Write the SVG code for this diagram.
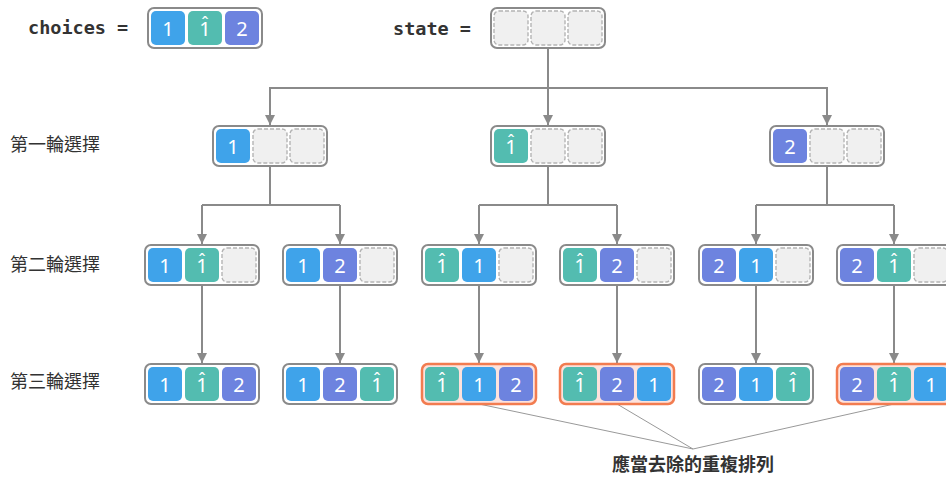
<svg xmlns="http://www.w3.org/2000/svg" xmlns:xlink="http://www.w3.org/1999/xlink" width="946" height="477" viewBox="0 0 946 477">
<style>
.box{fill:#fff;stroke:#8a8a8a;stroke-width:2}
.hl{fill:#fde2dc;stroke:#f27c50;stroke-width:2.5}
.e{fill:#f0f0f0;stroke:#b4b4b4;stroke-width:1.4;stroke-dasharray:4 2}
.b{fill:#3fa3ea}
.t{fill:#53bcb0}
.p{fill:#6d83df}
.d{font-family:"Noto Sans","Open Sans",sans-serif;font-size:20px;fill:#fff;text-anchor:middle}
.h{font-family:"Noto Sans","Open Sans",sans-serif;font-size:18px;fill:#fff;text-anchor:middle}
.lbl{font-family:"Noto Sans CJK TC","Noto Sans CJK SC",sans-serif;font-size:18px;fill:#333}
.mono{font-family:"DejaVu Sans Mono","Liberation Mono",monospace;font-size:18.5px;font-weight:bold;fill:#333}
.conn{fill:none;stroke:#8a8a8a;stroke-width:2}
.thin{fill:none;stroke:#999;stroke-width:1}
</style>
<defs>
<marker id="arr" viewBox="0 0 10 10" refX="10" refY="5" markerWidth="5" markerHeight="5" orient="auto" markerUnits="strokeWidth">
<path d="M0,0 L10,5 L0,10 z" fill="#8a8a8a"/>
</marker>
<g id="E1"><rect class="e" x="40" y="3" width="34" height="34" rx="5"/></g>
<g id="E2"><rect class="e" x="77" y="3" width="34" height="34" rx="5"/></g>
<g id="H0"><rect class="t" x="3" y="3" width="34" height="34" rx="5"/><text class="d" x="20" y="28">1</text><text class="h" x="20" y="22">ˆ</text></g>
<g id="H1"><rect class="t" x="40" y="3" width="34" height="34" rx="5"/><text class="d" x="57" y="28">1</text><text class="h" x="57" y="22">ˆ</text></g>
<g id="H2"><rect class="t" x="77" y="3" width="34" height="34" rx="5"/><text class="d" x="94" y="28">1</text><text class="h" x="94" y="22">ˆ</text></g>
</defs>

<text class="mono" x="28" y="34">choices =</text>
<text class="mono" x="393" y="35">state =</text>

<text class="lbl" x="10" y="151">第一輪選擇</text>
<text class="lbl" x="10" y="271">第二輪選擇</text>
<text class="lbl" x="10" y="388">第三輪選擇</text>

<g id="connectors">
<path class="conn" d="M548,48 V88"/>
<path class="conn" d="M270,125 V88 H827 V125" marker-end="url(#arr)"/>
<path class="conn" d="M270,88 V125" marker-end="url(#arr)"/>
<path class="conn" d="M548,88 V125" marker-end="url(#arr)"/>
<path class="conn" d="M270,166 V205"/>
<path class="conn" d="M202,205 H340"/>
<path class="conn" d="M202,205 V244" marker-end="url(#arr)"/>
<path class="conn" d="M340,205 V244" marker-end="url(#arr)"/>
<path class="conn" d="M548,166 V205"/>
<path class="conn" d="M479,205 H617"/>
<path class="conn" d="M479,205 V244" marker-end="url(#arr)"/>
<path class="conn" d="M617,205 V244" marker-end="url(#arr)"/>
<path class="conn" d="M827,166 V205"/>
<path class="conn" d="M756,205 H894"/>
<path class="conn" d="M756,205 V244" marker-end="url(#arr)"/>
<path class="conn" d="M894,205 V244" marker-end="url(#arr)"/>
<path class="conn" d="M202,285 V363" marker-end="url(#arr)"/>
<path class="conn" d="M340,285 V363" marker-end="url(#arr)"/>
<path class="conn" d="M479,285 V363" marker-end="url(#arr)"/>
<path class="conn" d="M617,285 V363" marker-end="url(#arr)"/>
<path class="conn" d="M756,285 V363" marker-end="url(#arr)"/>
<path class="conn" d="M894,285 V363" marker-end="url(#arr)"/>
<path class="thin" d="M479,404 L693,449 M617,404 L693,449 M894,404 L693,449"/>
</g>

<g id="choices" transform="translate(148,8)">
<rect class="box" x="0" y="0" width="114" height="40" rx="6"/>
<rect class="b" x="3" y="3" width="34" height="34" rx="5"/><text class="d" x="20" y="28">1</text>
<use xlink:href="#H1"/>
<rect class="p" x="77" y="3" width="34" height="34" rx="5"/><text class="d" x="94" y="28">2</text>
</g>

<g id="state" transform="translate(491,8)">
<rect class="box" x="0" y="0" width="114" height="40" rx="6"/>
<rect class="e" x="3" y="3" width="34" height="34" rx="5"/>
<use xlink:href="#E1"/><use xlink:href="#E2"/>
</g>

<g id="l1a" transform="translate(213,126)">
<rect class="box" x="0" y="0" width="114" height="40" rx="6"/>
<rect class="b" x="3" y="3" width="34" height="34" rx="5"/><text class="d" x="20" y="28">1</text>
<use xlink:href="#E1"/><use xlink:href="#E2"/>
</g>
<g id="l1b" transform="translate(491,126)">
<rect class="box" x="0" y="0" width="114" height="40" rx="6"/>
<use xlink:href="#H0"/>
<use xlink:href="#E1"/><use xlink:href="#E2"/>
</g>
<g id="l1c" transform="translate(770,126)">
<rect class="box" x="0" y="0" width="114" height="40" rx="6"/>
<rect class="p" x="3" y="3" width="34" height="34" rx="5"/><text class="d" x="20" y="28">2</text>
<use xlink:href="#E1"/><use xlink:href="#E2"/>
</g>

<g id="l2a" transform="translate(145,245)">
<rect class="box" x="0" y="0" width="114" height="40" rx="6"/>
<rect class="b" x="3" y="3" width="34" height="34" rx="5"/><text class="d" x="20" y="28">1</text>
<use xlink:href="#H1"/>
<use xlink:href="#E2"/>
</g>
<g id="l2b" transform="translate(283,245)">
<rect class="box" x="0" y="0" width="114" height="40" rx="6"/>
<rect class="b" x="3" y="3" width="34" height="34" rx="5"/><text class="d" x="20" y="28">1</text>
<rect class="p" x="40" y="3" width="34" height="34" rx="5"/><text class="d" x="57" y="28">2</text>
<use xlink:href="#E2"/>
</g>
<g id="l2c" transform="translate(422,245)">
<rect class="box" x="0" y="0" width="114" height="40" rx="6"/>
<use xlink:href="#H0"/>
<rect class="b" x="40" y="3" width="34" height="34" rx="5"/><text class="d" x="57" y="28">1</text>
<use xlink:href="#E2"/>
</g>
<g id="l2d" transform="translate(560,245)">
<rect class="box" x="0" y="0" width="114" height="40" rx="6"/>
<use xlink:href="#H0"/>
<rect class="p" x="40" y="3" width="34" height="34" rx="5"/><text class="d" x="57" y="28">2</text>
<use xlink:href="#E2"/>
</g>
<g id="l2e" transform="translate(699,245)">
<rect class="box" x="0" y="0" width="114" height="40" rx="6"/>
<rect class="p" x="3" y="3" width="34" height="34" rx="5"/><text class="d" x="20" y="28">2</text>
<rect class="b" x="40" y="3" width="34" height="34" rx="5"/><text class="d" x="57" y="28">1</text>
<use xlink:href="#E2"/>
</g>
<g id="l2f" transform="translate(837,245)">
<rect class="box" x="0" y="0" width="114" height="40" rx="6"/>
<rect class="p" x="3" y="3" width="34" height="34" rx="5"/><text class="d" x="20" y="28">2</text>
<use xlink:href="#H1"/>
<use xlink:href="#E2"/>
</g>

<g id="l3a" transform="translate(145,364)">
<rect class="box" x="0" y="0" width="114" height="40" rx="6"/>
<rect class="b" x="3" y="3" width="34" height="34" rx="5"/><text class="d" x="20" y="28">1</text>
<use xlink:href="#H1"/>
<rect class="p" x="77" y="3" width="34" height="34" rx="5"/><text class="d" x="94" y="28">2</text>
</g>
<g id="l3b" transform="translate(283,364)">
<rect class="box" x="0" y="0" width="114" height="40" rx="6"/>
<rect class="b" x="3" y="3" width="34" height="34" rx="5"/><text class="d" x="20" y="28">1</text>
<rect class="p" x="40" y="3" width="34" height="34" rx="5"/><text class="d" x="57" y="28">2</text>
<use xlink:href="#H2"/>
</g>
<g id="l3c" transform="translate(422,364)">
<rect class="hl" x="0" y="0" width="114" height="40" rx="6"/>
<use xlink:href="#H0"/>
<rect class="b" x="40" y="3" width="34" height="34" rx="5"/><text class="d" x="57" y="28">1</text>
<rect class="p" x="77" y="3" width="34" height="34" rx="5"/><text class="d" x="94" y="28">2</text>
</g>
<g id="l3d" transform="translate(560,364)">
<rect class="hl" x="0" y="0" width="114" height="40" rx="6"/>
<use xlink:href="#H0"/>
<rect class="p" x="40" y="3" width="34" height="34" rx="5"/><text class="d" x="57" y="28">2</text>
<rect class="b" x="77" y="3" width="34" height="34" rx="5"/><text class="d" x="94" y="28">1</text>
</g>
<g id="l3e" transform="translate(699,364)">
<rect class="box" x="0" y="0" width="114" height="40" rx="6"/>
<rect class="p" x="3" y="3" width="34" height="34" rx="5"/><text class="d" x="20" y="28">2</text>
<rect class="b" x="40" y="3" width="34" height="34" rx="5"/><text class="d" x="57" y="28">1</text>
<use xlink:href="#H2"/>
</g>
<g id="l3f" transform="translate(837,364)">
<rect class="hl" x="0" y="0" width="114" height="40" rx="6"/>
<rect class="p" x="3" y="3" width="34" height="34" rx="5"/><text class="d" x="20" y="28">2</text>
<use xlink:href="#H1"/>
<rect class="b" x="77" y="3" width="34" height="34" rx="5"/><text class="d" x="94" y="28">1</text>
</g>

<text id="note" x="693" y="471" text-anchor="middle" style="font-family:'Noto Sans CJK TC','Noto Sans CJK SC',sans-serif;font-size:18px;font-weight:bold;fill:#333">應當去除的重複排列</text>
</svg>
